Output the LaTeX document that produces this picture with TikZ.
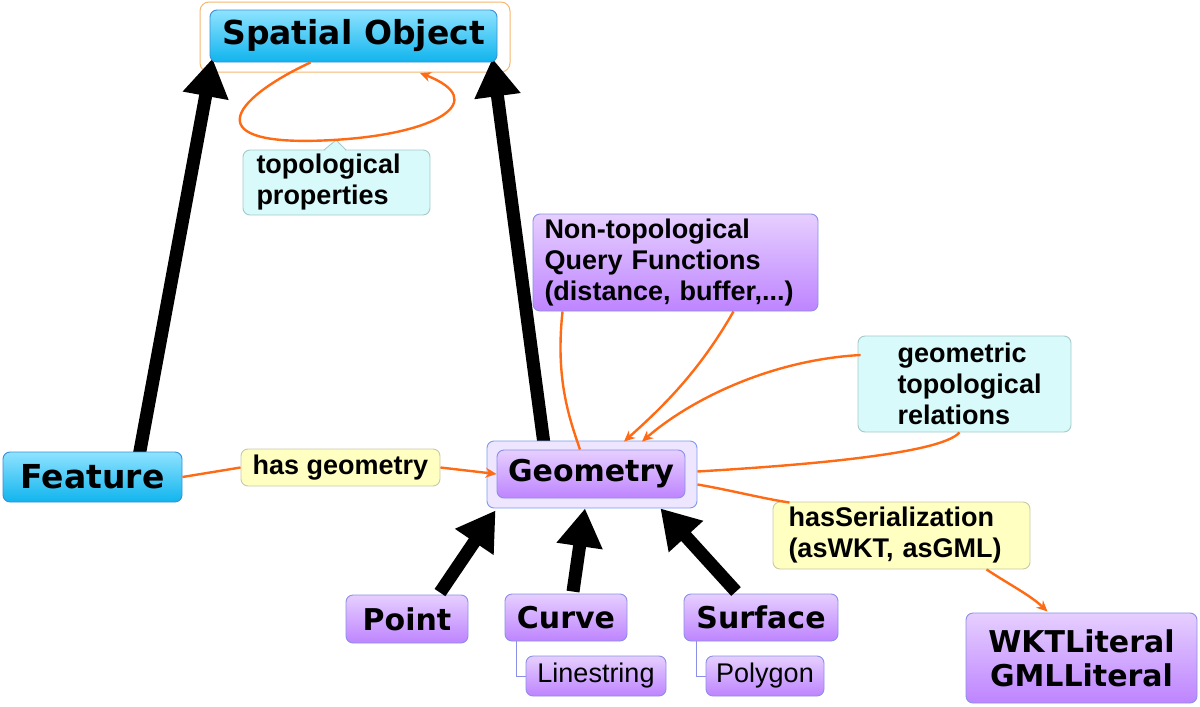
\documentclass[tikz,border=0pt]{standalone}
\usepackage{fontspec}
\setmainfont{Liberation Sans}
\newfontfamily\heavy{DejaVu Sans}
\usetikzlibrary{arrows.meta,calc}
\pgfdeclarelayer{bg}
\pgfsetlayers{bg,main}
\definecolor{cyT}{HTML}{8FE3FF}
\definecolor{cyB}{HTML}{10B4EE}
\definecolor{cyD}{HTML}{3A8FD8}
\definecolor{puT}{HTML}{E6CFFF}
\definecolor{puB}{HTML}{BE84FF}
\definecolor{puD}{HTML}{8A8FE8}
\definecolor{geoOut}{HTML}{EEE6FF}
\definecolor{geoOutD}{HTML}{7C9BEF}
\definecolor{yel}{HTML}{FFFFC2}
\definecolor{yelD}{HTML}{C9C9A6}
\definecolor{lcy}{HTML}{D8FAFA}
\definecolor{lcyD}{HTML}{A6C9C9}
\definecolor{orn}{HTML}{FF6A14}
\definecolor{soOut}{HTML}{F5B870}
\begin{document}
\begin{tikzpicture}[x=1pt,y=-1pt,
  box/.style={rounded corners=7pt, line width=0.9pt, inner sep=0pt, text=black},
  cybox/.style={box, draw=cyD, top color=cyT, bottom color=cyB, font=\heavy\bfseries\fontsize{33}{36}\selectfont},
  pubox/.style={box, draw=puD, top color=puT, bottom color=puB, font=\heavy\bfseries\fontsize{30}{34}\selectfont},
  pulabel/.style={box, draw=puD, top color=puT, bottom color=puB, font=\bfseries\fontsize{27}{31}\selectfont},
  subbox/.style={box, draw=puD, top color=puT, bottom color=puB, font=\fontsize{27}{31}\selectfont},
  ylbox/.style={box, draw=yelD, fill=yel, font=\bfseries\fontsize{27}{31}\selectfont},
  lcbox/.style={box, draw=lcyD, fill=lcy, font=\bfseries\fontsize{27}{31}\selectfont},
  big/.style={line width=13pt, -{Triangle[length=38pt,width=44pt]}},
  orl/.style={draw=orn, line width=2.4pt},
  ora/.style={orl, -{Stealth[length=11pt,width=10pt]}},
  thin/.style={draw=puD, line width=0.9pt}
]
\useasboundingbox (0,0) rectangle (1200,707);
% Spatial Object
\begin{pgfonlayer}{bg}
\node[draw=soOut, line width=1pt, rounded corners=9pt, fill=white, minimum width=310pt, minimum height=70pt] (soouter) at (355,37) {};
\end{pgfonlayer}
\node[cybox, minimum width=287pt, minimum height=52pt] (so) at (353.5,36) {Spatial Object};
% topological properties
\node[lcbox, minimum width=187pt, minimum height=65pt, text width=160pt, align=left] (tp) at (336.5,182.5) {topological\\properties};
\fill[lcy] (324,151.5) -- (336,140) -- (346,151.5) -- cycle;
\draw[lcyD, line width=0.9pt] (324,150) -- (336,140) -- (346,150);
% Feature
\node[cybox, minimum width=179pt, minimum height=50pt] (feat) at (92.5,477) {Feature};
% has geometry
\node[ylbox, minimum width=199pt, minimum height=37pt] (hg) at (340.5,467.5) {has geometry};
% Geometry
\node[box, draw=geoOutD, fill=geoOut, minimum width=210pt, minimum height=67pt] (geoouter) at (592,474.5) {};
\node[pubox, minimum width=188pt, minimum height=48pt] (geo) at (591,474) {Geometry};
% Non-topological
\node[pulabel, minimum width=285pt, minimum height=97pt, text width=262pt, align=left] (nt) at (675.5,262.5) {Non-topological\\Query Functions\\(distance, buffer,...)};
% geometric topological relations
\node[lcbox, minimum width=213pt, minimum height=96pt, text width=134pt, align=left] (gtr) at (964.5,384) {geometric\\topological\\relations};
% hasSerialization
\node[ylbox, minimum width=257pt, minimum height=67pt, text width=226pt, align=left] (hs) at (901.5,535.5) {hasSerialization\\(asWKT, asGML)};
% Literals
\node[pubox, minimum width=231pt, minimum height=90pt, align=center] (lit) at (1081.5,658) {WKTLiteral\\GMLLiteral};
% subclasses
\node[pubox, minimum width=122pt, minimum height=48pt] (pt) at (407,619) {Point};
\node[pubox, minimum width=122pt, minimum height=47pt] (cv) at (566,617.5) {Curve};
\node[pubox, minimum width=154pt, minimum height=47pt] (sf) at (761,617.5) {Surface};
\node[subbox, minimum width=140pt, minimum height=40pt] (ls) at (596,676) {Linestring};
\node[subbox, minimum width=118pt, minimum height=40pt] (pg) at (765,676) {Polygon};
\draw[thin] ($(cv.south west)+(12,0)$) |- (ls.west);
\draw[thin] ($(sf.south west)+(13,0)$) |- (pg.west);
% big black arrows
\begin{pgfonlayer}{bg}
\draw[big] ($(feat.north)+(47,2)$) -- ($(so.south west)+(3,-4)$);
\draw[big] ($(geo.north)+(-46,2)$) -- ($(so.south east)+(-5,-4)$);
\end{pgfonlayer}
\draw[big] ($(pt.north)+(33,-2)$) -- ($(geoouter.south west)+(9,2)$);
\draw[big] ($(cv.north)+(7,-2)$) -- ($(geoouter.south)+(-7,0)$);
\draw[big] ($(sf.north)+(-25,-2)$) -- ($(geoouter.south east)+(-37,0)$);
% orange connectors
\draw[ora] ($(so.south)+(-43,0)$) .. controls (230,100) and (195,148) .. (333,140) .. controls (440,134) and (490,100) .. (420,73);
\draw[orl] (feat.east) -- (hg.west);
\draw[ora] (hg.east) -- (geo.west);
\draw[orl] ($(nt.south west)+(30,0)$) .. controls (555,380) and (570,420) .. ($(geo.north)+(-11,0)$);
\draw[ora] ($(nt.south)+(58,0)$) .. controls (700,370) and (665,405) .. ($(geoouter.north)+(32,1)$);
\draw[ora] ($(gtr.west)+(3,-29)$) .. controls (770,360) and (690,400) .. ($(geoouter.north)+(50,1)$);
\draw[orl] ($(gtr.south)+(-5,0)$) .. controls (940,455) and (790,466) .. ($(geoouter.east)+(0,-3)$);
\draw[orl] ($(geoouter.east)+(0,10)$) .. controls (730,490) and (760,498) .. ($(hs.north west)+(17,1)$);
\draw[ora] ($(hs.south)+(85,0)$) .. controls (1010,585) and (1030,595) .. ($(lit.north)+(-34,-1)$);
\end{tikzpicture}
\end{document}
